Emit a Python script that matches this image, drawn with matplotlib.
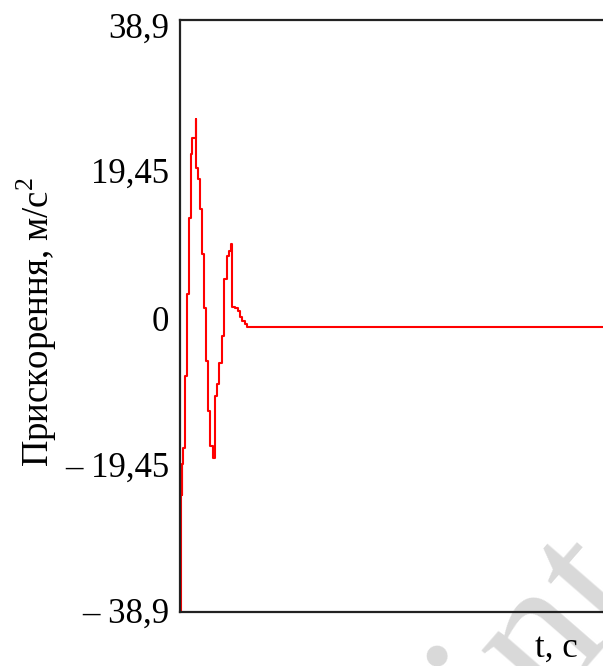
import numpy as np
import matplotlib as mpl
mpl.use('Agg')
import matplotlib.pyplot as plt
import matplotlib.transforms as mtransforms

plt.rcParams['font.family'] = ['Liberation Serif', 'DejaVu Serif']
plt.rcParams['mathtext.fontset'] = 'custom'
plt.rcParams['mathtext.rm'] = 'Liberation Serif'

# time (s) of each step and acceleration (m/s^2) held from that time on
t = [0.0, 0.0035, 0.0057, 0.0078, 0.0100, 0.0122, 0.0217, 0.0304, 0.0391,
     0.0478, 0.0543, 0.0674, 0.0696, 0.0761, 0.0870, 0.0957, 0.1065, 0.1152,
     0.1239, 0.1326, 0.1435, 0.1522, 0.1596, 0.1709, 0.1813, 0.1913, 0.2022,
     0.2130, 0.2196, 0.2274, 0.2391, 0.2522, 0.2630, 0.2717, 0.2826, 0.2926,
     2.0]
acc = [-38.9, -23.9, -19.6, -23.5, -19.5, -17.4, -7.9, 2.8, 12.8,
       21.2, 23.3, 25.8, 19.4, 17.9, 14.0, 8.1, 1.0, -6.0,
       -12.5, -17.1, -18.7, -10.6, -9.0, -6.2, -2.7, 4.8, 7.8,
       8.5, 9.4, 1.2, 1.0, 0.6, -0.1, -0.7, -1.1, -1.45,
       -1.45]

yticks = [38.9, 19.45, 0, -19.45, -38.9]
ylabels = ['38,9', '19,45', '0', '\u2013 19,45', '\u2013 38,9']

fig = plt.figure(figsize=(6.03, 6.66), dpi=100)
ax = fig.add_axes([180/603, 54/666, 460/603, 592.5/666])

ax.plot(t, acc, color='red', lw=1.5, drawstyle='steps-post')

ax.set_xlim(0, 2.0)
ax.set_ylim(-38.9, 38.9)
ax.set_xticks([])
ax.set_yticks(yticks)
ax.set_yticklabels(ylabels, fontsize=25)
ax.tick_params(axis='y', length=0, pad=8)
# labels sit a little lower than their ticks in the original
shifts = [-6, -3, -3, 0, 2]
for lab, dy in zip(ax.get_yticklabels(), shifts):
    lab.set_transform(lab.get_transform() +
                      mtransforms.ScaledTranslation(0, dy / 100, fig.dpi_scale_trans))
for s in ax.spines.values():
    s.set_linewidth(1.6)
    s.set_color('#222222')

# watermark
ax.text(647/603, 1 - 593/666, 'Preprint', transform=fig.transFigure,
        fontsize=142, color='#d9d9d9', rotation=49, rotation_mode='anchor',
        ha='right', va='baseline', zorder=1, clip_on=False)

fig.text(37/603, 1 - 322/666, r'Прискорення, м/с$^{2}$', rotation=90,
         fontsize=26.5, ha='center', va='center')
fig.text(556/603, 1 - 648/666, 't, c', fontsize=25, ha='center', va='center')

plt.savefig('out.png', dpi=100)
